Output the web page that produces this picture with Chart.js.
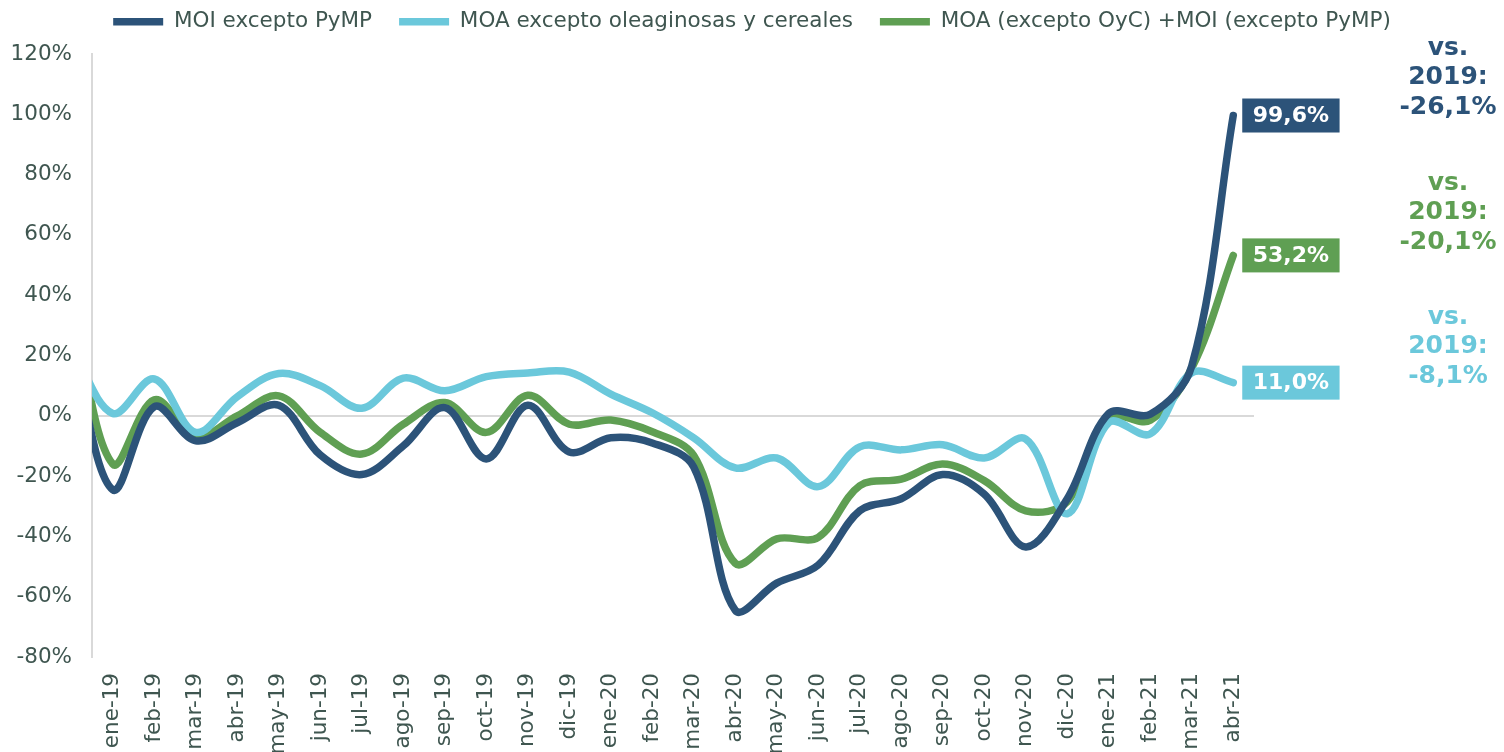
<!DOCTYPE html>
<html>
<head>
<meta charset="utf-8">
<script src="https://cdn.jsdelivr.net/npm/chart.js@4"></script>
<style>
  html, body { margin: 0; padding: 0; background: #ffffff; }
  #wrap { width: 1504px; height: 752px; }
</style>
</head>
<body>
<div id="wrap"><canvas id="c" width="1504" height="752"></canvas></div>
<script>
// Category labels (first one, dic-18, lies just outside the visible axis and is clipped)
const months = ['dic-18','ene-19','feb-19','mar-19','abr-19','may-19','jun-19','jul-19','ago-19','sep-19','oct-19','nov-19','dic-19',
  'ene-20','feb-20','mar-20','abr-20','may-20','jun-20','jul-20','ago-20','sep-20','oct-20','nov-20','dic-20',
  'ene-21','feb-21','mar-21','abr-21'];

// Series values (% year-on-year)
const moiExceptoPyMP = [24, -24.5, 3, -8.3, -2.3, 3.5, -13, -19.5, -10, 2.7, -14.3, 3.5, -12, -7.3, -9, -17,
  -64.5, -55.5, -49.5, -31.5, -27.5, -19.5, -26, -43.5, -27.5, 0.8, 0.5, 16.5, 99.6];
const moaExceptoOyC = [23, 0.8, 12.2, -5.5, 6.3, 14, 10, 2.5, 12.5, 8.3, 13, 14.2, 14.5, 7.2, 1, -7.3,
  -17.3, -14, -23.5, -10.3, -11.3, -9.6, -14, -7.7, -32.5, -2.2, -6, 14.3, 11.0];
const moaMasMoi = [38, -16, 5.3, -7, 0, 6.6, -5.5, -12.7, -2.8, 4.4, -5.5, 6.8, -2.8, -1.4, -5.3, -13.2,
  -48.9, -40.8, -40.3, -23.2, -21, -16, -21.5, -31.5, -28.5, -0.5, -1.5, 15.8, 53.2];

const seriesNames = ['MOI excepto PyMP', 'MOA excepto oleaginosas y cereales', 'MOA (excepto OyC) +MOI (excepto PyMP)'];
const seriesColors = ['#2C5379', '#6BC8DB', '#5F9F53'];

// Comparison vs. 2019 annotations (top to bottom: MOI, MOA+MOI, MOA)
const vs2019Values = ['-26,1%', '-20,1%', '-8,1%'];
const vs2019Series = [0, 2, 1];

// Y tick settings
const yMin = -80, yMax = 120, yStep = 20;

const FONT = "'DejaVu Sans', Verdana, sans-serif";
const TEXT = '#3F5650';
const FS = 21.5;

const endLabels = {
  id: 'endLabels',
  afterDatasetsDraw(chart) {
    const ctx = chart.ctx;
    ctx.save();
    ctx.font = "bold 22px " + FONT;
    let maxW = 0;
    chart.data.datasets.forEach(ds => {
      const v = ds.data[ds.data.length - 1];
      const t = v.toFixed(1).replace('.', ',') + '%';
      maxW = Math.max(maxW, ctx.measureText(t).width);
    });
    const bw = maxW + 21, bh = 34;
    chart.data.datasets.forEach((ds, i) => {
      const meta = chart.getDatasetMeta(i);
      const p = meta.data[meta.data.length - 1];
      const v = ds.data[ds.data.length - 1];
      const t = v.toFixed(1).replace('.', ',') + '%';
      const x0 = p.x + 9;
      const y0 = p.y - bh / 2;
      ctx.fillStyle = ds.borderColor;
      ctx.fillRect(x0, y0, bw, bh);
      ctx.fillStyle = '#ffffff';
      ctx.textAlign = 'center';
      ctx.textBaseline = 'middle';
      ctx.fillText(t, x0 + bw / 2, p.y + 1);
    });
    ctx.restore();
  }
};

const vsLabels = {
  id: 'vsLabels',
  afterDraw(chart) {
    const ctx = chart.ctx;
    ctx.save();
    ctx.font = "bold 25px " + FONT;
    ctx.textAlign = 'center';
    ctx.textBaseline = 'middle';
    const cx = chart.width - 56;
    const tops = [48, 183, 317];
    vs2019Values.forEach((val, i) => {
      ctx.fillStyle = seriesColors[vs2019Series[i]];
      const lines = ['vs.', '2019:', val];
      lines.forEach((l, k) => ctx.fillText(l, cx, tops[i] + k * 29.5));
    });
    ctx.restore();
  }
};

const mkDs = (label, data, color) => ({
  label, data,
  borderColor: color,
  backgroundColor: color,
  borderWidth: 7.5,
  borderCapStyle: 'round',
  borderJoinStyle: 'round',
  pointRadius: 0,
  pointHoverRadius: 0,
  tension: 0.35,
  fill: false,
  clip: {left: 0, top: 10, right: 10, bottom: 10}
});

new Chart(document.getElementById('c'), {
  type: 'line',
  data: {
    labels: months,
    datasets: [
      mkDs(seriesNames[0], moiExceptoPyMP, seriesColors[0]),
      mkDs(seriesNames[1], moaExceptoOyC, seriesColors[1]),
      mkDs(seriesNames[2], moaMasMoi, seriesColors[2])
    ]
  },
  options: {
    responsive: false,
    animation: false,
    devicePixelRatio: 1,
    layout: { padding: { left: 0, right: 0, top: -16, bottom: 0 } },
    plugins: {
      tooltip: { enabled: false },
      legend: {
        position: 'top',
        align: 'center',
        labels: {
          usePointStyle: true,
          pointStyle: 'line',
          pointStyleWidth: 50,
          boxHeight: 8,
          padding: 27,
          color: TEXT,
          font: { family: FONT, size: FS }
        }
      }
    },
    scales: {
      x: {
        type: 'category',
        min: 'ene-19',
        offset: true,
        grid: { display: false },
        border: { display: false },
        ticks: {
          autoSkip: false,
          maxRotation: 90,
          minRotation: 90,
          padding: 8,
          color: TEXT,
          font: { family: FONT, size: FS }
        },
        afterFit(s) { s.height = 95; }
      },
      xTop: {
        type: 'category',
        position: 'top',
        display: true,
        grid: { display: false, drawTicks: false },
        border: { display: false },
        ticks: { display: false },
        afterFit(s) { s.height = 11.5; }
      },
      y: {
        min: yMin,
        max: yMax,
        grid: {
          drawTicks: false,
          color: c => (c.tick && c.tick.value === 0) ? '#D9D9D9' : 'rgba(0,0,0,0)',
          lineWidth: 2
        },
        border: { display: true, color: '#D9D9D9', width: 2 },
        ticks: {
          stepSize: yStep,
          padding: 20,
          color: TEXT,
          font: { family: FONT, size: FS },
          callback: v => v + '%'
        },
        afterFit(s) { s.width = 92; }
      },
      yRight: {
        position: 'right',
        display: true,
        min: yMin,
        max: yMax,
        grid: { display: false, drawTicks: false },
        border: { display: false },
        ticks: { display: false },
        afterFit(s) { s.width = 250; }
      }
    }
  },
  plugins: [endLabels, vsLabels]
});
</script>
</body>
</html>
